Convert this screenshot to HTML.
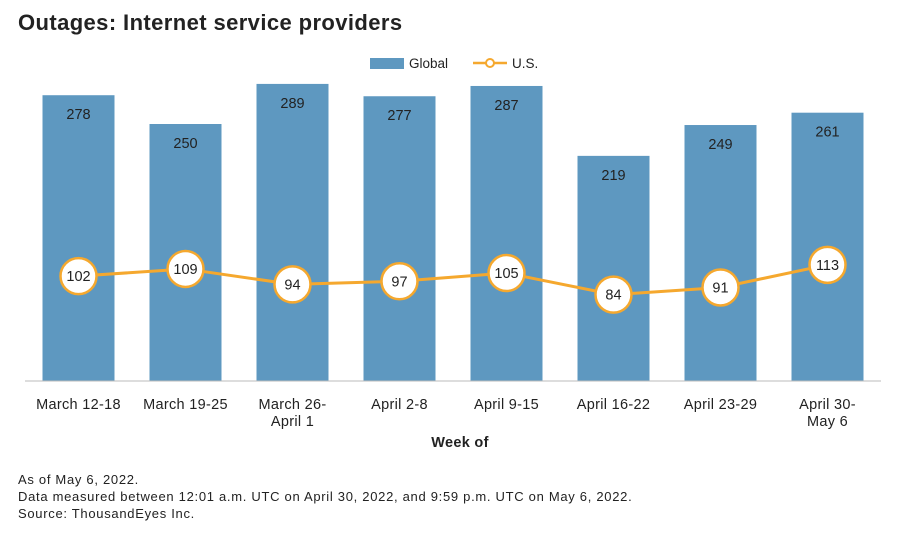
<!DOCTYPE html>
<html><head><meta charset="utf-8"><style>
body{margin:0;background:#fff;font-family:"Liberation Sans",sans-serif;}
</style></head><body>
<svg width="908" height="536" viewBox="0 0 908 536" font-family="Liberation Sans, sans-serif">
<text x="18" y="30" font-size="22" font-weight="bold" letter-spacing="0.4" fill="#222">Outages: Internet service providers</text>
<g>
<rect x="370" y="58" width="34" height="11" fill="#5e98c0"/>
<text x="409" y="68" font-size="13.5" fill="#222">Global</text>
<line x1="473" y1="63" x2="507" y2="63" stroke="#f5a82e" stroke-width="2.5"/>
<circle cx="490" cy="63" r="4" fill="#fff" stroke="#f5a82e" stroke-width="2"/>
<text x="512" y="68" font-size="13.5" fill="#222">U.S.</text>
</g>
<g id="plot"></g>
<text x="460" y="447" font-size="14.5" font-weight="bold" letter-spacing="0.3" text-anchor="middle" fill="#222">Week of</text>
<g font-size="13" letter-spacing="0.7" fill="#222">
<text x="18" y="484">As of May 6, 2022.</text>
<text x="18" y="501">Data measured between 12:01 a.m. UTC on April 30, 2022, and 9:59 p.m. UTC on May 6, 2022.</text>
<text x="18" y="518">Source: ThousandEyes Inc.</text>
</g>
</svg>
<script>
const categories=[["March 12-18"],["March 19-25"],["March 26-","April 1"],["April 2-8"],["April 9-15"],["April 16-22"],["April 23-29"],["April 30-","May 6"]];
const globalValues=[278,250,289,277,287,219,249,261];
const usValues=[102,109,94,97,105,84,91,113];
const NS="http://www.w3.org/2000/svg";
const g=document.getElementById('plot');
const baseY=381, scale=1.028, x0=25, step=107, bw=72;
const xc=i=>x0+step*(i+0.5);
const y=v=>baseY-v*scale;
function mk(t,a,p){const e=document.createElementNS(NS,t);for(const k in a)e.setAttribute(k,a[k]);(p||g).appendChild(e);return e;}
globalValues.forEach((v,i)=>{
 const r=mk('rect',{x:xc(i)-bw/2,y:y(v),width:bw,height:v*scale,fill:'#5e98c0'});
 
 
 const t=mk('text',{x:xc(i),y:y(v)+24,'font-size':14.5,'text-anchor':'middle',fill:'#222'});t.textContent=v;
 
 
 const lab=mk('text',{x:xc(i),y:409,'font-size':14.5,'letter-spacing':0.3,'text-anchor':'middle',fill:'#222'});
 
 
 categories[i].forEach((s,j)=>{const ts=mk('tspan',{x:xc(i),dy:j?17:0},lab);ts.textContent=s;});
});
const ax=mk('line',{x1:x0,x2:x0+step*8,y1:baseY,y2:baseY,stroke:'#bbb','stroke-width':1});


const pts=usValues.map((v,i)=>xc(i)+','+y(v)).join(' ');
const pl=mk('polyline',{points:pts,fill:'none',stroke:'#f5a82e','stroke-width':3});


usValues.forEach((v,i)=>{
 const c=mk('circle',{cx:xc(i),cy:y(v),r:18,fill:'#fff',stroke:'#f5a82e','stroke-width':2.5});
 
 
 const t=mk('text',{x:xc(i),y:y(v)+5,'font-size':14.5,'text-anchor':'middle',fill:'#222'});t.textContent=v;
 
 
});
</script>
</body></html>
